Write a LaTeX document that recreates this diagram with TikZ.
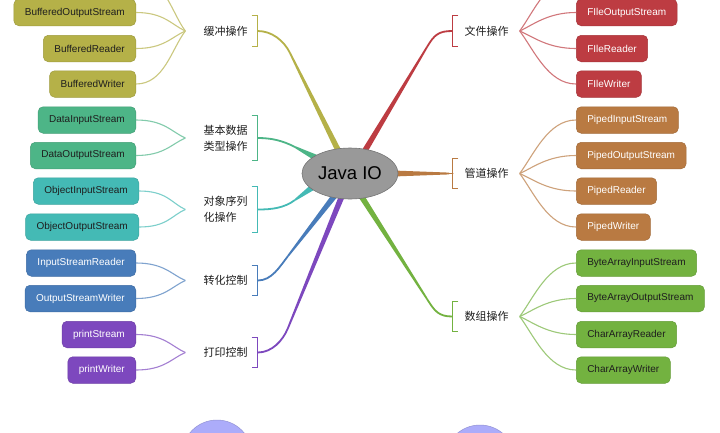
\documentclass[tikz,border=0pt]{standalone}
\usepackage{fontspec}
\setmainfont{Liberation Sans}
\newfontfamily\cjk{Noto Sans CJK SC}
\usetikzlibrary{calc,shapes.geometric,backgrounds}
\definecolor{cOlive}{RGB}{181,177,72}
\definecolor{cDgreen}{RGB}{77,181,135}
\definecolor{cTeal}{RGB}{68,186,181}
\definecolor{cBlue}{RGB}{72,124,186}
\definecolor{cPurple}{RGB}{125,72,190}
\definecolor{cRed}{RGB}{189,60,66}
\definecolor{cOrange}{RGB}{185,122,66}
\definecolor{cGreen}{RGB}{115,178,64}
\definecolor{cGray}{RGB}{153,153,153}
\definecolor{cPeri}{RGB}{172,172,250}
\definecolor{cDark}{RGB}{30,30,30}
% tapered main branch: #1 colour, #2 start, #3 bend, #4 end, #5 direction
\newcommand\mmbranch[5]{%
  \draw[#1, line width=1.8pt] (#2) .. controls ($(#2)+(#5*14,0)$) and ($(#3)!-14pt!(#4)$) .. (#3);
  \coordinate (tE) at ($(#3)!1.1!(#4)$);
  \fill[#1] ($(#3)!0.9pt!90:(tE)$) -- ($(tE)!3pt!-90:(#3)$) -- ($(tE)!3pt!90:(#3)$) -- ($(#3)!0.9pt!-90:(tE)$) -- cycle;
}
\newcommand\leafL[3]{\draw[#1!70!white, line width=1.1pt] (#2) .. controls ($(#2)!0.35!(#3 -| #2)+(-14,0)$) and ($(#3)+(28,0)$) .. (#3);}
\newcommand\leafR[3]{\draw[#1!70!white, line width=1.1pt] (#2) .. controls ($(#2)!0.35!(#3 -| #2)+(14,0)$) and ($(#3)+(-28,0)$) .. (#3);}
\newcommand\bracketL[2]{\draw[#1, line width=1pt] ([xshift=-6pt]#2.north east) -- (#2.north east) -- (#2.south east) -- ([xshift=-6pt]#2.south east);}
\newcommand\bracketR[2]{\draw[#1, line width=1pt] ([xshift=6pt]#2.north west) -- (#2.north west) -- (#2.south west) -- ([xshift=6pt]#2.south west);}
\begin{document}
\begin{tikzpicture}[x=1pt,y=-1pt,
  leafbox/.style={rounded corners=5pt, minimum height=26.5pt, inner xsep=11pt, inner ysep=0pt,
    font=\fontsize{10}{12}\selectfont, fill=#1, draw=#1!88!black, line width=0.5pt},
  lbox/.style={leafbox=#1, anchor=east, text=cDark},
  lboxw/.style={leafbox=#1, anchor=east, text=white},
  rbox/.style={leafbox=#1, anchor=west, text=white},
  rboxd/.style={leafbox=#1, anchor=west, text=cDark},
  catL/.style={inner xsep=10pt, inner ysep=0pt, minimum height=30pt, align=left,
    font=\cjk\fontsize{11}{16}\selectfont, text=cDark},
  catR/.style={catL, inner xsep=12pt},
  tall/.style={minimum height=45pt}]
\useasboundingbox (0,0) rectangle (720,432);
\clip (0,0) rectangle (720,432);

% centre
\node[ellipse, fill=cGray, draw=cGray!75!black, line width=0.6pt, minimum width=96pt, minimum height=51pt,
  inner sep=0pt, font=\fontsize{18.5}{20}\selectfont, text=black] (java) at (350,173.5) {Java IO};

% categories
\node[catL] (c1) at (225.5,31) {缓冲操作};
\node[catL, tall] (c2) at (225.5,138) {基本数据\\类型操作};
\node[catL, tall] (c3) at (225.5,209.5) {对象序列\\化操作};
\node[catL] (c4) at (225.5,280.5) {转化控制};
\node[catL] (c5) at (225.5,352.5) {打印控制};
\node[catR] (c6) at (486.5,31) {文件操作};
\node[catR] (c7) at (486.5,173.5) {管道操作};
\node[catR] (c8) at (486.5,316.5) {数组操作};

\bracketL{cOlive}{c1}
\bracketL{cDgreen}{c2}
\bracketL{cTeal}{c3}
\bracketL{cBlue}{c4}
\bracketL{cPurple}{c5}
\bracketR{cRed}{c6}
\bracketR{cOrange}{c7}
\bracketR{cGreen}{c8}

% main branches
\begin{scope}[on background layer]
\fill[white] (0,0) rectangle (720,432);
\mmbranch{cOlive}{c1.east}{290,53}{java.117}{1}
\mmbranch{cDgreen}{c2.east}{295,147}{java.155}{1}
\mmbranch{cTeal}{c3.east}{295,200}{java.201}{1}
\mmbranch{cBlue}{c4.east}{288,256}{java.235}{1}
\mmbranch{cPurple}{c5.east}{288,328}{java.250}{1}
\mmbranch{cRed}{c6.west}{427,47}{java.57}{-1}
\mmbranch{cOrange}{c7.west}{449,173.5}{java.0}{-1}
\mmbranch{cGreen}{c8.west}{427,299}{java.297}{-1}
\end{scope}

% leaves left
\coordinate (b11) at (136,-23.5);
\node[lbox=cOlive] (b12) at (136,12.5) {BufferedOutputStream};
\node[lbox=cOlive] (b13) at (136,48.5) {BufferedReader};
\node[lbox=cOlive] (b14) at (136,84) {BufferedWriter};
\node[lbox=cDgreen] (b21) at (136,120) {DataInputStream};
\node[lbox=cDgreen] (b22) at (136,155.5) {DataOutputStream};
\node[lbox=cTeal] (b31) at (139,191) {ObjectInputStream};
\node[lbox=cTeal] (b32) at (139,227) {ObjectOutputStream};
\node[lboxw=cBlue] (b41) at (136,263) {InputStreamReader};
\node[lboxw=cBlue] (b42) at (136,298.5) {OutputStreamWriter};
\node[lboxw=cPurple] (b51) at (136,334.5) {printStream};
\node[lboxw=cPurple] (b52) at (136,370) {printWriter};

% leaves right
\coordinate (r11) at (576,-23.5);
\node[rbox=cRed] (r12) at (576,12.5) {FIleOutputStream};
\node[rbox=cRed] (r13) at (576,48.5) {FIleReader};
\node[rbox=cRed] (r14) at (576,84) {FIleWriter};
\node[rbox=cOrange] (r21) at (576,120) {PipedInputStream};
\node[rbox=cOrange] (r22) at (576,155.5) {PipedOutputStream};
\node[rbox=cOrange] (r23) at (576,191) {PipedReader};
\node[rbox=cOrange] (r24) at (576,227) {PipedWriter};
\node[rboxd=cGreen] (r31) at (576,263) {ByteArrayInputStream};
\node[rboxd=cGreen] (r32) at (576,298.5) {ByteArrayOutputStream};
\node[rboxd=cGreen] (r33) at (576,334.5) {CharArrayReader};
\node[rboxd=cGreen] (r34) at (576,370) {CharArrayWriter};

% fan points
\coordinate (f1) at ($(c1.west)+(-8,0)$);
\coordinate (f2) at ($(c2.west)+(-8,0)$);
\coordinate (f3) at ($(c3.west)+(-8,0)$);
\coordinate (f4) at ($(c4.west)+(-8,0)$);
\coordinate (f5) at ($(c5.west)+(-8,0)$);
\coordinate (f6) at ($(c6.east)+(-1,0)$);
\coordinate (f7) at ($(c7.east)+(-1,0)$);
\coordinate (f8) at ($(c8.east)+(-1,0)$);

\leafL{cOlive}{f1}{b11}
\leafL{cOlive}{f1}{b12.east}
\leafL{cOlive}{f1}{b13.east}
\leafL{cOlive}{f1}{b14.east}
\leafL{cDgreen}{f2}{b21.east}
\leafL{cDgreen}{f2}{b22.east}
\leafL{cTeal}{f3}{b31.east}
\leafL{cTeal}{f3}{b32.east}
\leafL{cBlue}{f4}{b41.east}
\leafL{cBlue}{f4}{b42.east}
\leafL{cPurple}{f5}{b51.east}
\leafL{cPurple}{f5}{b52.east}
\leafR{cRed}{f6}{r11}
\leafR{cRed}{f6}{r12.west}
\leafR{cRed}{f6}{r13.west}
\leafR{cRed}{f6}{r14.west}
\leafR{cOrange}{f7}{r21.west}
\leafR{cOrange}{f7}{r22.west}
\leafR{cOrange}{f7}{r23.west}
\leafR{cOrange}{f7}{r24.west}
\leafR{cGreen}{f8}{r31.west}
\leafR{cGreen}{f8}{r32.west}
\leafR{cGreen}{f8}{r33.west}
\leafR{cGreen}{f8}{r34.west}

% bottom circles
\node[circle, fill=cPeri, draw=cPeri!85!black, line width=0.5pt, minimum size=70pt, inner sep=0pt] (o1) at (217,455) {};
\node[circle, fill=cPeri, draw=cPeri!85!black, line width=0.5pt, minimum size=70pt, inner sep=0pt] (o2) at (480,460) {};
\end{tikzpicture}
\end{document}
